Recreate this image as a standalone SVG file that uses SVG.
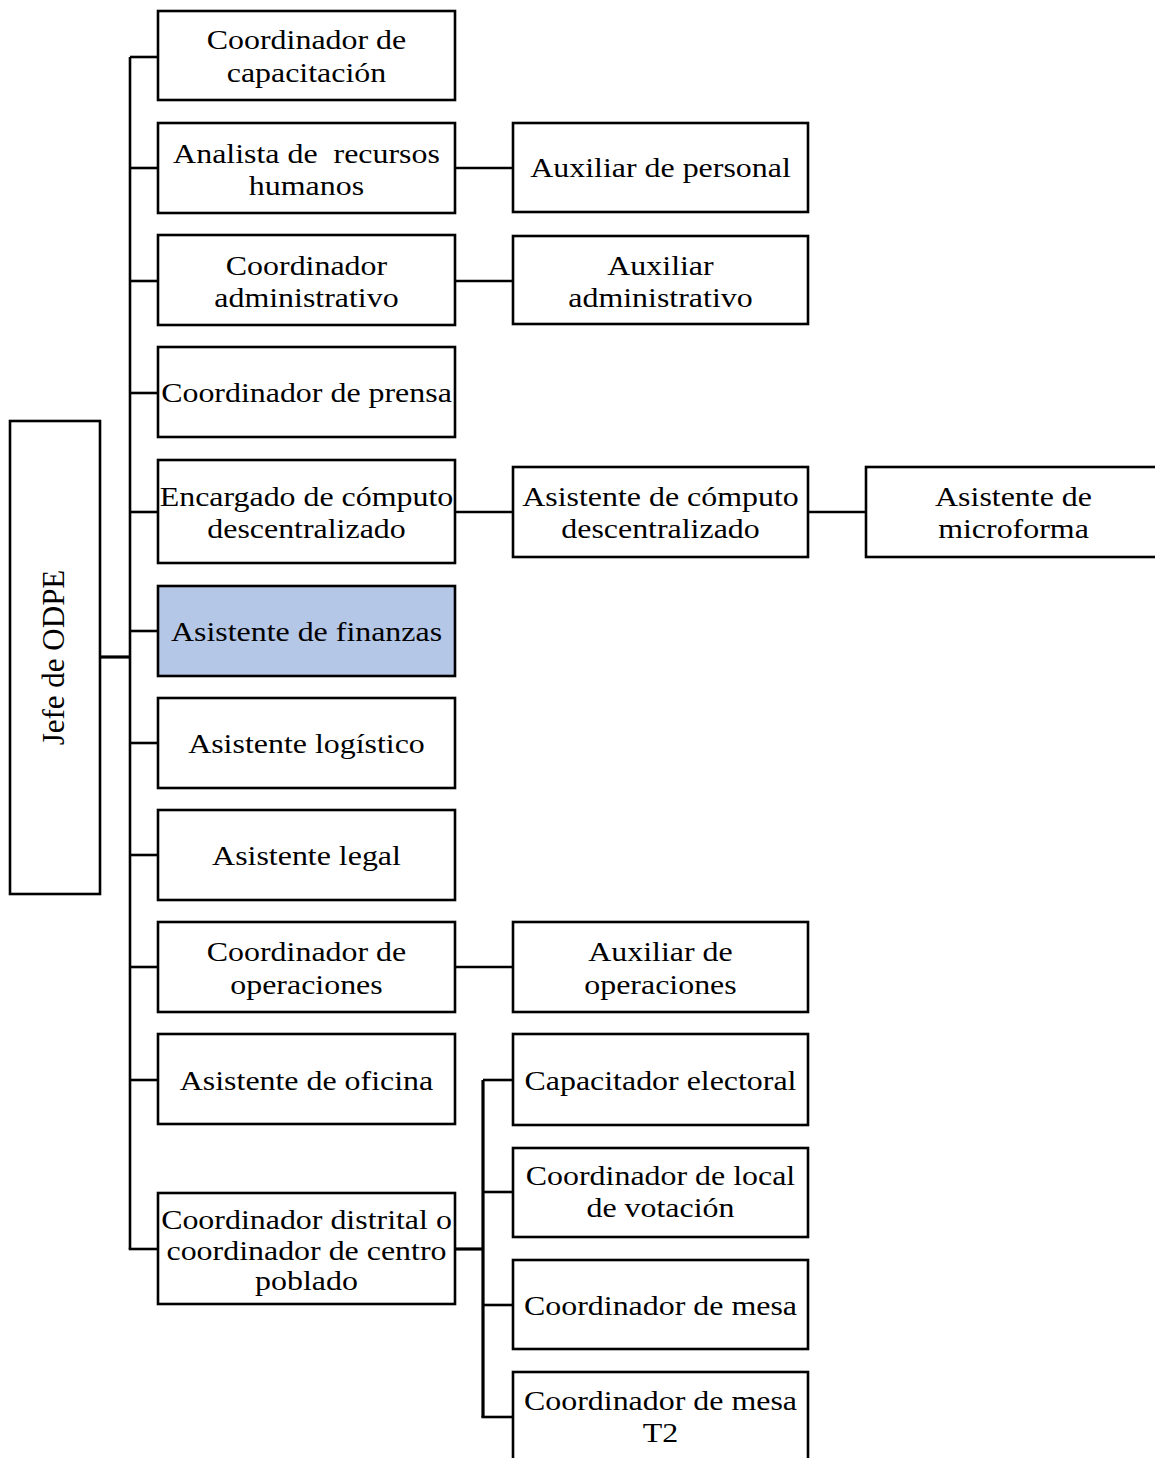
<svg xmlns="http://www.w3.org/2000/svg" width="1155" height="1458" viewBox="0 0 1155 1458">
<style>
.b{fill:#fff;stroke:#000;stroke-width:2.6}
.hl{fill:#b4c7e7}
.t{font-family:"Liberation Serif","Times New Roman",serif;font-size:28px;fill:#000;text-anchor:middle}
.c{fill:none;stroke:#000;stroke-width:2.6}
.ct{fill:none;stroke:#000;stroke-width:3.2}
</style>
<rect width="1155" height="1458" fill="#fff"/>
<g id="connectors">
<line class="c" x1="130" y1="57" x2="130" y2="1249"/>
<line class="ct" x1="100" y1="657" x2="130" y2="657"/>
<line class="c" x1="130" y1="57" x2="158" y2="57"/>
<line class="c" x1="130" y1="168" x2="158" y2="168"/>
<line class="c" x1="130" y1="281" x2="158" y2="281"/>
<line class="c" x1="130" y1="393" x2="158" y2="393"/>
<line class="c" x1="130" y1="512" x2="158" y2="512"/>
<line class="c" x1="130" y1="631" x2="158" y2="631"/>
<line class="c" x1="130" y1="743" x2="158" y2="743"/>
<line class="c" x1="130" y1="855" x2="158" y2="855"/>
<line class="c" x1="130" y1="967" x2="158" y2="967"/>
<line class="c" x1="130" y1="1080" x2="158" y2="1080"/>
<line class="c" x1="128.7" y1="1249" x2="158" y2="1249"/>
<line class="c" x1="455" y1="168" x2="513" y2="168"/>
<line class="c" x1="455" y1="281" x2="513" y2="281"/>
<line class="c" x1="455" y1="512" x2="513" y2="512"/>
<line class="c" x1="808" y1="512" x2="866" y2="512"/>
<line class="c" x1="455" y1="967" x2="513" y2="967"/>
<line class="ct" x1="455" y1="1249" x2="483" y2="1249"/>
<line class="ct" x1="483" y1="1080" x2="483" y2="1417"/>
<line class="c" x1="483" y1="1080" x2="513" y2="1080"/>
<line class="c" x1="483" y1="1192" x2="513" y2="1192"/>
<line class="c" x1="483" y1="1305" x2="513" y2="1305"/>
<line class="c" x1="481.4" y1="1417" x2="513" y2="1417"/>
</g>
<g id="jefe">
<rect class="b" x="10" y="421" width="90" height="473"/>
<text class="t" font-size="31" style="font-size:31px" transform="translate(64,657.5) rotate(-90)" x="0" y="0">Jefe de ODPE</text>
</g>
<g id="coord-capacitacion">
<rect class="b" x="158" y="11" width="297" height="89"/>
<g transform="matrix(1.14,0,0,1,-42.91,0)"><text class="t" x="306.5" y="49">Coordinador de</text><text class="t" x="306.5" y="82">capacitación</text></g>
</g>
<g id="analista-rrhh">
<rect class="b" x="158" y="123" width="297" height="90"/>
<g transform="matrix(1.14,0,0,1,-42.91,0)"><text class="t" x="306.5" y="163" xml:space="preserve">Analista de  recursos</text><text class="t" x="306.5" y="195">humanos</text></g>
</g>
<g id="coord-administrativo">
<rect class="b" x="158" y="235" width="297" height="90"/>
<g transform="matrix(1.14,0,0,1,-42.91,0)"><text class="t" x="306.5" y="275">Coordinador</text><text class="t" x="306.5" y="307">administrativo</text></g>
</g>
<g id="coord-prensa">
<rect class="b" x="158" y="347" width="297" height="90"/>
<g transform="matrix(1.14,0,0,1,-42.91,0)"><text class="t" x="306.5" y="402">Coordinador de prensa</text></g>
</g>
<g id="encargado-computo">
<rect class="b" x="158" y="460" width="297" height="103"/>
<g transform="matrix(1.14,0,0,1,-42.91,0)"><text class="t" x="306.5" y="506">Encargado de cómputo</text><text class="t" x="306.5" y="538">descentralizado</text></g>
</g>
<g id="asistente-finanzas">
<rect class="b hl" x="158" y="586" width="297" height="90"/>
<g transform="matrix(1.14,0,0,1,-42.91,0)"><text class="t" x="306.5" y="641">Asistente de finanzas</text></g>
</g>
<g id="asistente-logistico">
<rect class="b" x="158" y="698" width="297" height="90"/>
<g transform="matrix(1.14,0,0,1,-42.91,0)"><text class="t" x="306.5" y="753">Asistente logístico</text></g>
</g>
<g id="asistente-legal">
<rect class="b" x="158" y="810" width="297" height="90"/>
<g transform="matrix(1.14,0,0,1,-42.91,0)"><text class="t" x="306.5" y="865">Asistente legal</text></g>
</g>
<g id="coord-operaciones">
<rect class="b" x="158" y="922" width="297" height="90"/>
<g transform="matrix(1.14,0,0,1,-42.91,0)"><text class="t" x="306.5" y="961">Coordinador de</text><text class="t" x="306.5" y="994">operaciones</text></g>
</g>
<g id="asistente-oficina">
<rect class="b" x="158" y="1034" width="297" height="90"/>
<g transform="matrix(1.14,0,0,1,-42.91,0)"><text class="t" x="306.5" y="1090">Asistente de oficina</text></g>
</g>
<g id="coord-distrital">
<rect class="b" x="158" y="1193" width="297" height="111"/>
<g transform="matrix(1.14,0,0,1,-42.91,0)"><text class="t" x="306.5" y="1229">Coordinador distrital o</text><text class="t" x="306.5" y="1260">coordinador de centro</text><text class="t" x="306.5" y="1290">poblado</text></g>
</g>
<g id="auxiliar-personal">
<rect class="b" x="513" y="123" width="295" height="89"/>
<g transform="matrix(1.14,0,0,1,-92.47,0)"><text class="t" x="660.5" y="177">Auxiliar de personal</text></g>
</g>
<g id="auxiliar-administrativo">
<rect class="b" x="513" y="236" width="295" height="88"/>
<g transform="matrix(1.14,0,0,1,-92.47,0)"><text class="t" x="660.5" y="275">Auxiliar</text><text class="t" x="660.5" y="307">administrativo</text></g>
</g>
<g id="asistente-computo">
<rect class="b" x="513" y="467" width="295" height="90"/>
<g transform="matrix(1.14,0,0,1,-92.47,0)"><text class="t" x="660.5" y="506">Asistente de cómputo</text><text class="t" x="660.5" y="538">descentralizado</text></g>
</g>
<g id="asistente-microforma">
<rect class="b" x="866" y="467" width="295" height="90"/>
<g transform="matrix(1.14,0,0,1,-141.89,0)"><text class="t" x="1013.5" y="506">Asistente de</text><text class="t" x="1013.5" y="538">microforma</text></g>
</g>
<g id="auxiliar-operaciones">
<rect class="b" x="513" y="922" width="295" height="90"/>
<g transform="matrix(1.14,0,0,1,-92.47,0)"><text class="t" x="660.5" y="961">Auxiliar de</text><text class="t" x="660.5" y="994">operaciones</text></g>
</g>
<g id="capacitador-electoral">
<rect class="b" x="513" y="1034" width="295" height="91"/>
<g transform="matrix(1.14,0,0,1,-92.47,0)"><text class="t" x="660.5" y="1090">Capacitador electoral</text></g>
</g>
<g id="coord-local">
<rect class="b" x="513" y="1148" width="295" height="89"/>
<g transform="matrix(1.14,0,0,1,-92.47,0)"><text class="t" x="660.5" y="1185">Coordinador de local</text><text class="t" x="660.5" y="1217">de votación</text></g>
</g>
<g id="coord-mesa">
<rect class="b" x="513" y="1260" width="295" height="89"/>
<g transform="matrix(1.14,0,0,1,-92.47,0)"><text class="t" x="660.5" y="1315">Coordinador de mesa</text></g>
</g>
<g id="coord-mesa-t2">
<rect class="b" x="513" y="1372" width="295" height="100"/>
<g transform="matrix(1.14,0,0,1,-92.47,0)"><text class="t" x="660.5" y="1410">Coordinador de mesa</text><text class="t" x="660.5" y="1442">T2</text></g>
</g>
</svg>
